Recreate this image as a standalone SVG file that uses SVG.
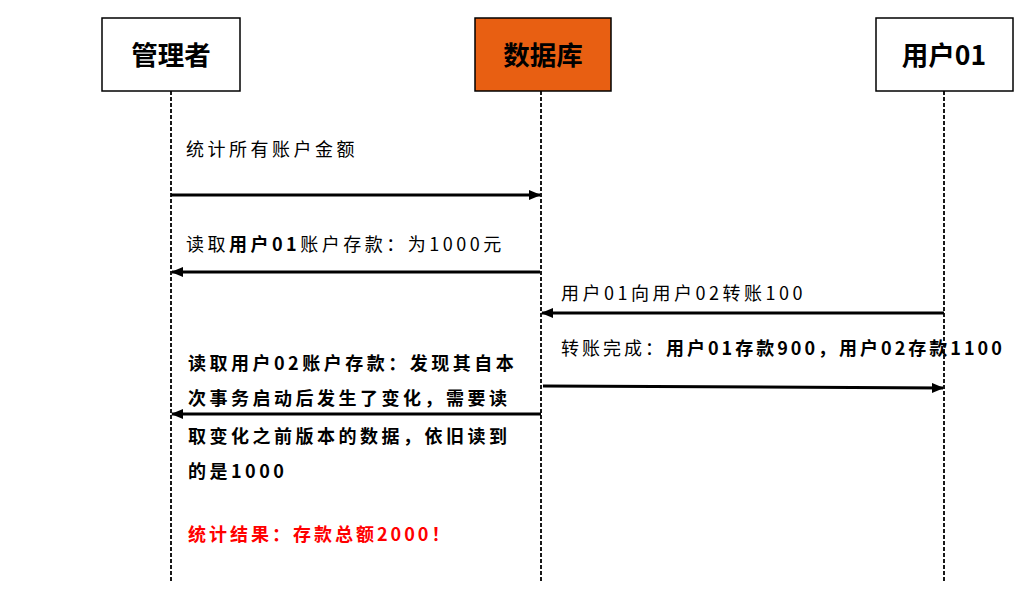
<svg xmlns="http://www.w3.org/2000/svg" width="1032" height="613" viewBox="0 0 1032 613">
<defs>
<style>
.box{fill:#fff;stroke:#000;stroke-width:1.5}
.title{font-family:"Noto Sans CJK SC","Liberation Sans",sans-serif;font-size:26.5px;font-weight:bold;text-anchor:middle;fill:#000}
.life{stroke:#000;stroke-width:1.8;stroke-dasharray:4 2;fill:none}
.msg{stroke:#000;stroke-width:3;fill:none}
.t{font-family:"Noto Sans CJK SC","Liberation Sans",sans-serif;font-size:18px;letter-spacing:3.5px;fill:#000}
.b{font-weight:bold}
.red{fill:#ff0000;font-weight:bold}
</style>
<marker id="ah" markerWidth="12" markerHeight="10" refX="11" refY="5" orient="auto" markerUnits="userSpaceOnUse">
<path d="M0,0 L12,5 L0,10 Z" fill="#000"/>
</marker>
</defs>
<rect width="1032" height="613" fill="#fff"/>
<g id="lifelines">
<line class="life" x1="171" y1="91" x2="171" y2="583"/>
<line class="life" x1="541" y1="91" x2="541" y2="583"/>
<line class="life" x1="944" y1="91" x2="944" y2="583"/>
</g>
<g id="node-admin">
<rect class="box" x="102" y="18" width="138" height="73"/>
<text class="title" x="171" y="65">管理者</text>
</g>
<g id="node-db">
<rect class="box" x="475" y="18" width="136" height="73" style="fill:#e85f12"/>
<text class="title" x="543" y="65">数据库</text>
</g>
<g id="node-user01">
<rect class="box" x="876" y="18" width="137" height="73"/>
<text class="title" x="944" y="65">用户01</text>
</g>
<g id="connectors">
<line class="msg" x1="171" y1="195" x2="540" y2="195" marker-end="url(#ah)"/>
<line class="msg" x1="540" y1="272" x2="172" y2="272" marker-end="url(#ah)"/>
<line class="msg" x1="944" y1="313" x2="542" y2="313" marker-end="url(#ah)"/>
<line class="msg" x1="543" y1="386" x2="943" y2="388" marker-end="url(#ah)"/>
<line class="msg" x1="541" y1="414" x2="172" y2="414" marker-end="url(#ah)"/>
</g>
<g id="labels">
<text class="t" x="186" y="156">统计所有账户金额</text>
<text class="t" x="186" y="251">读取<tspan class="b">用户01</tspan>账户存款：为1000元</text>
<text class="t" x="561" y="300">用户01向用户02转账100</text>
<text class="t" x="561" y="355" style="letter-spacing:3px">转账完成：<tspan class="b">用户01存款900，用户02存款1100</tspan></text>
<text class="t b" x="188" y="370">读取用户02账户存款：发现其自本</text>
<text class="t b" x="188" y="405">次事务启动后发生了变化，需要读</text>
<text class="t b" x="188" y="443">取变化之前版本的数据，依旧读到</text>
<text class="t b" x="188" y="478">的是1000</text>
<text class="t red" x="188" y="541" style="letter-spacing:3px">统计结果：存款总额2000！</text>
</g>
</svg>
